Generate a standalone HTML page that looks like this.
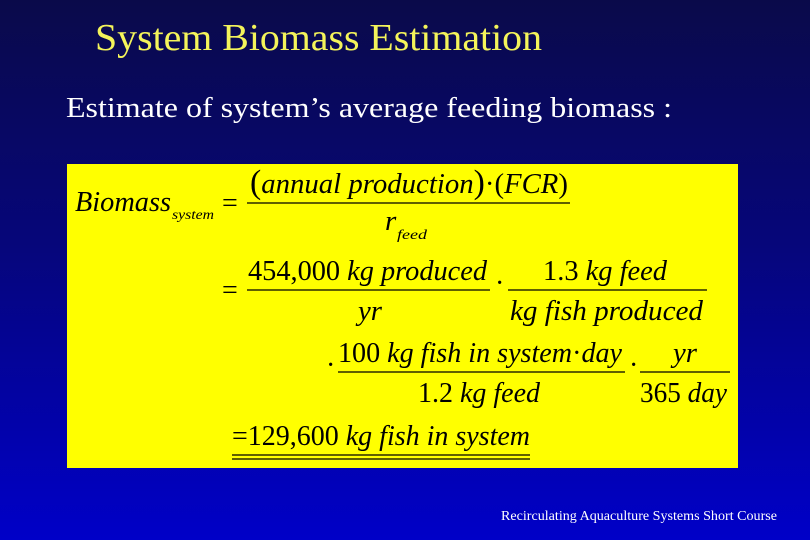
<!DOCTYPE html>
<html><head><meta charset="utf-8"><style>
html,body{margin:0;padding:0}
body{width:810px;height:540px;overflow:hidden;background:linear-gradient(#0a0a4a 0%,#06067a 45%,#0000c8 100%);}
svg{display:block}
text{font-family:"Liberation Serif","Times New Roman",serif}
.m{font-style:italic;font-size:29px;fill:#000}
.n{font-size:28px;fill:#000}
</style></head><body>
<svg width="810" height="540">
<text x="95" y="50" font-size="38" fill="#f4f45a" textLength="447" lengthAdjust="spacingAndGlyphs">System Biomass Estimation</text>
<text x="66" y="117" font-size="28" fill="#fff" textLength="606" lengthAdjust="spacingAndGlyphs">Estimate of system’s average feeding biomass :</text>
<rect x="67" y="164" width="671" height="304" fill="#ffff00"/>
<g>
<text class="m" x="75" y="211" textLength="96" lengthAdjust="spacingAndGlyphs">Biomass</text>
<text class="m" x="172" y="219" textLength="42" lengthAdjust="spacingAndGlyphs" style="font-size:14px">system</text>
<text class="n" x="222" y="212">=</text>
<text class="m" x="250" y="193" textLength="318" lengthAdjust="spacingAndGlyphs"><tspan style="font-style:normal;font-size:34px">(</tspan>annual production<tspan style="font-style:normal;font-size:34px">)</tspan><tspan style="font-style:normal">·(</tspan>FCR<tspan style="font-style:normal">)</tspan></text>
<line x1="247" y1="203" x2="570" y2="203" stroke="#000" stroke-width="1.3"/>
<text class="m" x="385" y="230">r</text>
<text class="m" x="397" y="239" textLength="30" lengthAdjust="spacingAndGlyphs" style="font-size:14px">feed</text>

<text class="n" x="222" y="299">=</text>
<text class="m" x="248" y="280" textLength="239" lengthAdjust="spacingAndGlyphs"><tspan style="font-style:normal">454,000</tspan> kg produced</text>
<line x1="247" y1="290" x2="490" y2="290" stroke="#000" stroke-width="1.3"/>
<text class="m" x="358" y="320" textLength="24" lengthAdjust="spacingAndGlyphs">yr</text>
<text class="n" x="495" y="292">·</text>
<text class="m" x="543" y="280" textLength="124" lengthAdjust="spacingAndGlyphs"><tspan style="font-style:normal">1.3</tspan> kg feed</text>
<line x1="508" y1="290" x2="707" y2="290" stroke="#000" stroke-width="1.3"/>
<text class="m" x="510" y="320" textLength="193" lengthAdjust="spacingAndGlyphs">kg fish produced</text>

<text class="n" x="326" y="374">·</text>
<text class="m" x="338" y="362" textLength="284" lengthAdjust="spacingAndGlyphs"><tspan style="font-style:normal">100</tspan> kg fish in system<tspan style="font-style:normal">·</tspan>day</text>
<line x1="338" y1="372" x2="625" y2="372" stroke="#000" stroke-width="1.3"/>
<text class="m" x="418" y="402" textLength="122" lengthAdjust="spacingAndGlyphs"><tspan style="font-style:normal">1.2</tspan> kg feed</text>
<text class="n" x="629" y="374">·</text>
<text class="m" x="673" y="362" textLength="24" lengthAdjust="spacingAndGlyphs">yr</text>
<line x1="640" y1="372" x2="730" y2="372" stroke="#000" stroke-width="1.3"/>
<text class="m" x="640" y="402" textLength="87" lengthAdjust="spacingAndGlyphs"><tspan style="font-style:normal">365</tspan> day</text>

<text class="m" x="232" y="445" textLength="298" lengthAdjust="spacingAndGlyphs"><tspan style="font-style:normal">=129,600</tspan> kg fish in system</text>
<line x1="232" y1="455" x2="530" y2="455" stroke="#000" stroke-width="1.3"/>
<line x1="232" y1="459" x2="530" y2="459" stroke="#000" stroke-width="1.3"/>
</g>
<text x="501" y="520" font-size="14" fill="#fff" textLength="276" lengthAdjust="spacingAndGlyphs">Recirculating Aquaculture Systems Short Course</text>
</svg>
</body></html>
